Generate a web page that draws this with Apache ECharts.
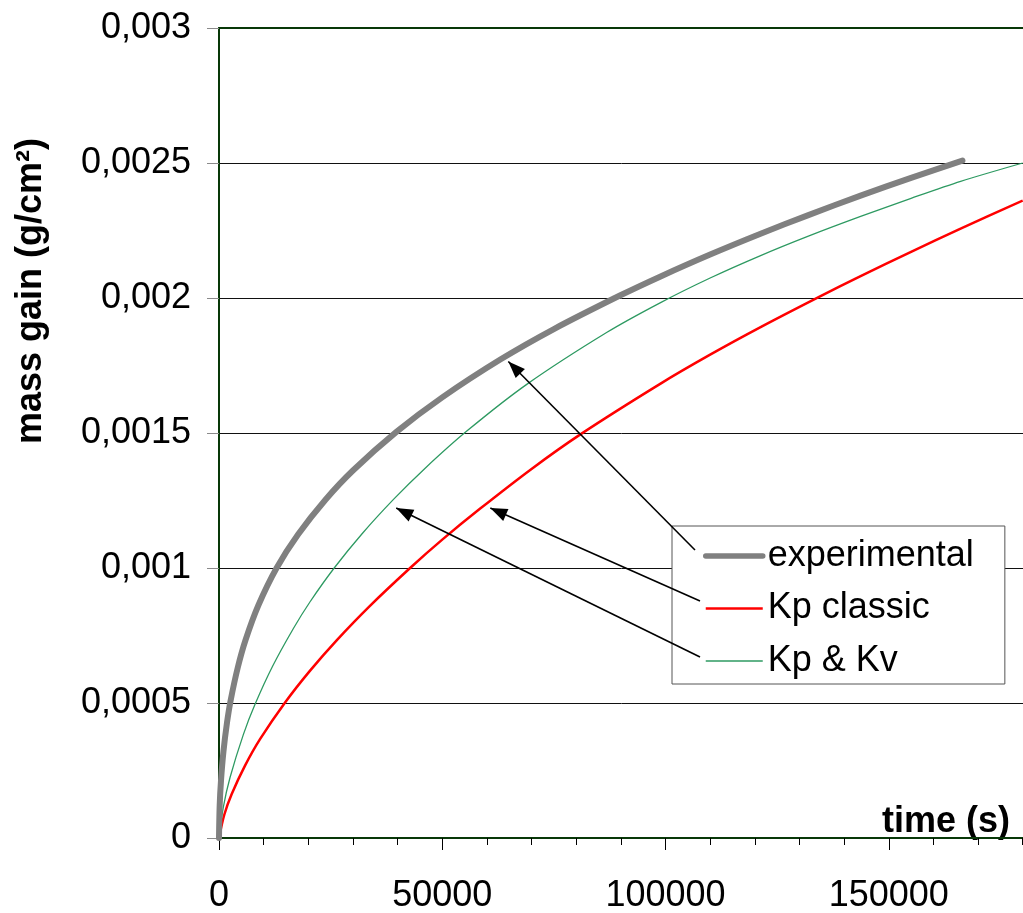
<!DOCTYPE html>
<html>
<head>
<meta charset="utf-8">
<script src="https://cdn.jsdelivr.net/npm/echarts@6/dist/echarts.min.js"></script>
<style>
  html, body { margin: 0; padding: 0; background: #fff; }
  #chart { width: 1023px; height: 913px; }
</style>
</head>
<body>
<div id="chart"></div>
<script>
// Oxidation mass gain versus time: measurement and two parabolic-rate models.

// experimental curve
const expTime = [0, 150, 450, 1000, 1800, 2600, 4200, 5980, 8820, 12900, 17700, 23800, 30000, 39800, 50000,
                 63000, 75000, 89900, 98900, 110000, 121300, 132000, 143700, 155000, 166500];
const expGain = [0, 0.00012, 0.000213, 0.000321, 0.000428, 0.000509, 0.000631, 0.000735, 0.000862, 0.001,
                 0.001124, 0.001252, 0.001361, 0.001505, 0.001632, 0.001772, 0.001885, 0.00201, 0.00208,
                 0.002161, 0.002238, 0.002307, 0.002379, 0.002445, 0.002509];

// Kp classic model
const kpTime = [0, 1200, 2850, 5830, 9190, 14800, 20400, 26400, 33700, 42800, 50000, 58500, 70000, 80940,
                98900, 110000, 121300, 134400, 143700, 155000, 166100, 180000];
const kpGain = [0, 0.000087, 0.000163, 0.000268, 0.000366, 0.000502, 0.00062, 0.000733, 0.000858, 0.001,
                0.001105, 0.00122, 0.001367, 0.001495, 0.001683, 0.00179, 0.001892, 0.002004, 0.002081,
                0.002171, 0.002257, 0.002361];

// Kp & Kv model
const kpkvTime = [0, 970, 2470, 5450, 8070, 12000, 16660, 20400, 25800, 32000, 39080, 46000, 55500, 69000,
                  86900, 98900, 110000, 121300, 132000, 143700, 155000, 166100, 180000];
const kpkvGain = [0, 0.000114, 0.000224, 0.000383, 0.000495, 0.000636, 0.000776, 0.000875, 0.001, 0.001126,
                  0.001254, 0.001367, 0.001507, 0.001681, 0.001873, 0.001983, 0.002074, 0.002157, 0.002229,
                  0.002302, 0.002369, 0.002432, 0.0025];

// points on each curve that the legend arrows designate
const expArrowTip = [64800, 0.001765];
const kpArrowTip = [60760, 0.001222];
const kpkvArrowTip = [39690, 0.001222];

const seriesNames = ['experimental', 'Kp classic', 'Kp & Kv'];
const yTickLabels = ['0', '0,0005', '0,001', '0,0015', '0,002', '0,0025', '0,003'];
const xTickLabels = ['0', '50000', '100000', '150000'];

const FONT = "'Liberation Sans', Arial, sans-serif";
const AXIS_GREEN = '#083808';
const COLORS = ['#808080', '#ff0000', '#2e9a62'];
const WIDTHS = [6, 2.5, 1.3];
const LEGEND_WIDTHS = [5.5, 2.5, 1.3];

const zip = (xs, ys) => xs.map((x, i) => [x, ys[i]]);

const arrowLine = (fromPx, tip) => ({
  silent: true,
  symbol: ['none', 'triangle'],
  symbolSize: [13, 17],
  symbolOffset: [0, [0, 8.5]],
  label: { show: false },
  lineStyle: { color: '#000', width: 1.6, type: 'solid' },
  data: [[{ x: fromPx[0], y: fromPx[1] }, { coord: tip }]]
});

const chart = echarts.init(document.getElementById('chart'), null, { renderer: 'canvas' });

chart.setOption({
  animation: false,
  backgroundColor: '#fff',
  textStyle: { fontFamily: FONT },
  // the time axis runs on to 200000 s; the page edge cuts it just past 180000 s
  grid: { left: 219, top: 28, right: -89, bottom: 75, outerBoundsMode: 'none' },
  xAxis: [
    {
      type: 'value', min: 0, max: 200000, interval: 50000, position: 'bottom',
      axisLine: { show: true, onZero: false, lineStyle: { color: AXIS_GREEN, width: 2 } },
      axisTick: { show: true, length: 12, lineStyle: { color: '#000', width: 1 } },
      minorTick: { show: true, splitNumber: 5, length: 7, lineStyle: { color: '#000', width: 1 } },
      axisLabel: {
        margin: 40, fontSize: 36, color: '#000', fontFamily: FONT,
        formatter: (v) => xTickLabels[Math.round(v / 50000)] || ''
      },
      splitLine: { show: false }
    },
    {
      type: 'value', min: 0, max: 200000, position: 'top',
      axisLine: { show: true, onZero: false, lineStyle: { color: AXIS_GREEN, width: 2 } },
      axisTick: { show: false }, axisLabel: { show: false }, splitLine: { show: false }
    }
  ],
  yAxis: {
    type: 'value', min: 0, max: 0.003, interval: 0.0005,
    axisLine: { show: true, onZero: false, lineStyle: { color: AXIS_GREEN, width: 2 } },
    axisTick: { show: true, length: 12, lineStyle: { color: '#8a8a8a', width: 1 } },
    axisLabel: {
      margin: 28, fontSize: 36, color: '#000', fontFamily: FONT,
      formatter: (v) => yTickLabels[Math.round(v / 0.0005)]
    },
    splitLine: { show: true, lineStyle: { color: '#111', width: 1 } }
  },
  legend: {
    orient: 'vertical', left: 672, top: 526,
    backgroundColor: '#fff', borderColor: '#555', borderWidth: 1,
    padding: [12, 31, 5, 31],
    itemWidth: 57, itemHeight: 14, itemGap: 16.5,
    itemStyle: { opacity: 0 },
    textStyle: { fontSize: 36, color: '#000', fontFamily: FONT },
    data: seriesNames.map((n, i) => ({
      name: n,
      itemStyle: { opacity: 0 },
      lineStyle: { color: COLORS[i], width: LEGEND_WIDTHS[i], cap: i === 0 ? 'round' : 'butt' }
    }))
  },
  series: [
    {
      name: seriesNames[1], type: 'line', data: zip(kpTime, kpGain),
      symbol: 'none', smooth: 0.3,
      lineStyle: { color: COLORS[1], width: WIDTHS[1] }, itemStyle: { color: COLORS[1] },
      markLine: arrowLine([700, 601], kpArrowTip)
    },
    {
      name: seriesNames[2], type: 'line', data: zip(kpkvTime, kpkvGain),
      symbol: 'none', smooth: 0.3,
      lineStyle: { color: COLORS[2], width: WIDTHS[2] }, itemStyle: { color: COLORS[2] },
      markLine: arrowLine([700, 657], kpkvArrowTip)
    },
    {
      name: seriesNames[0], type: 'line', data: zip(expTime, expGain),
      symbol: 'none', smooth: 0.3,
      lineStyle: { color: COLORS[0], width: WIDTHS[0], cap: 'round' }, itemStyle: { color: COLORS[0] },
      markLine: arrowLine([695, 550], expArrowTip)
    }
  ],
  graphic: [
    {
      type: 'text', x: 31, y: 291, rotation: Math.PI / 2,
      style: {
        text: 'mass gain (g/cm²)', font: 'bold 36px ' + FONT, fill: '#000',
        textAlign: 'center', textVerticalAlign: 'middle'
      }
    },
    {
      type: 'text', x: 1010, y: 822,
      style: {
        text: 'time (s)', font: 'bold 36px ' + FONT, fill: '#000',
        textAlign: 'right', textVerticalAlign: 'middle'
      }
    }
  ]
});
</script>
</body>
</html>
